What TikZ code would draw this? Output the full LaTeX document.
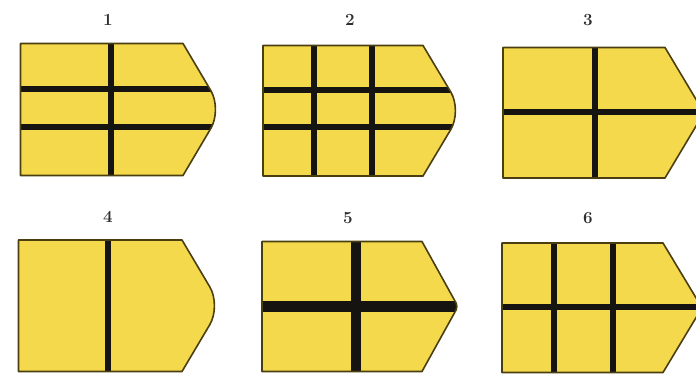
\documentclass[tikz,border=0pt]{standalone}
\usepackage{tikz}
\definecolor{platefill}{HTML}{F3D94B}
\definecolor{plateedge}{HTML}{4B3F12}
\definecolor{seam}{HTML}{161410}
\definecolor{numgray}{HTML}{2E2E2E}

% outline of one plate: left, top, slope start, tip, bottom, tip radius
\newcommand{\plateoutline}[6]{(#1,#2) -- (#3,#2) [rounded corners=#6] -- (#4,{(#2+#5)/2}) [sharp corners] -- (#3,#5) -- (#1,#5) -- cycle}
% plate with its seams clipped to the outline
\newcommand{\plate}[7]{%
  \path[platebody] \plateoutline{#1}{#2}{#3}{#4}{#5}{#6};
  \begin{scope}
    \clip \plateoutline{#1}{#2}{#3}{#4}{#5}{#6};
    #7
  \end{scope}
  \draw[plateborder] \plateoutline{#1}{#2}{#3}{#4}{#5}{#6};
}

\begin{document}
\begin{tikzpicture}[x=1pt,y=-1pt,
  platebody/.style={fill=platefill},
  plateborder/.style={draw=plateedge,line width=1.6pt,line join=round},
  seamline/.style={draw=seam,line width=5.4pt},
  barline/.style={draw=seam,line width=10.5pt},
  numlabel/.style={text=numgray,font=\fontsize{17}{17}\selectfont\bfseries}]
\useasboundingbox (0,0) rectangle (696,375);

% top row
\plate{20.5}{43.5}{183}{222}{175.5}{22pt}{%
  \draw[seamline] (111,30) -- (111,190);
  \draw[seamline] (10,89) -- (230,89);
  \draw[seamline] (10,127) -- (230,127);}
\plate{263}{45.5}{423}{462}{176}{22pt}{%
  \draw[seamline] (314,30) -- (314,190);
  \draw[seamline] (372,30) -- (372,190);
  \draw[seamline] (250,90) -- (470,90);
  \draw[seamline] (250,127) -- (470,127);}
\plate{503}{47.5}{665}{704}{178}{10pt}{%
  \draw[seamline] (595,30) -- (595,190);
  \draw[seamline] (490,112) -- (710,112);}

% bottom row
\plate{18.5}{240}{182}{221}{371.5}{22pt}{%
  \draw[seamline] (108,225) -- (108,385);}
\plate{262}{241.5}{422}{458}{371.5}{4pt}{%
  \draw[barline] (356,225) -- (356,385);
  \draw[barline] (250,306.5) -- (470,306.5);}
\plate{502}{243}{663}{702}{372.5}{10pt}{%
  \draw[seamline] (554,225) -- (554,385);
  \draw[seamline] (613,225) -- (613,385);
  \draw[seamline] (490,307) -- (710,307);}

\node[numlabel] (lbl1) at (108,20) {1};
\node[numlabel] (lbl2) at (350,20) {2};
\node[numlabel] (lbl3) at (588,20) {3};
\node[numlabel] (lbl4) at (108,217) {4};
\node[numlabel] (lbl5) at (348,218) {5};
\node[numlabel] (lbl6) at (588,218) {6};
\end{tikzpicture}
\end{document}
